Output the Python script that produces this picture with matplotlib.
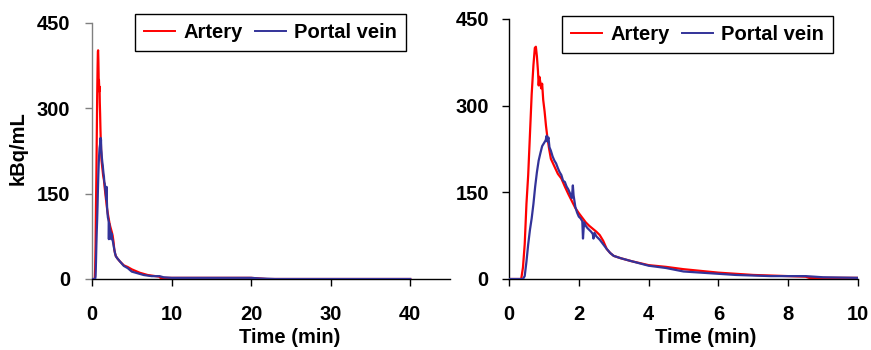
import matplotlib
matplotlib.use("Agg")
import matplotlib.pyplot as plt

# ---- data ----
artery_t = [0, 0.35, 0.40, 0.45, 0.50, 0.55, 0.60, 0.65, 0.70, 0.74, 0.77, 0.80, 0.83, 0.85, 0.87,
            0.90, 0.92, 0.95, 0.98, 1.02, 1.06, 1.10, 1.15, 1.20, 1.30, 1.40, 1.50, 1.60, 1.70,
            1.80, 1.90, 2.00, 2.10, 2.20, 2.30, 2.40, 2.50, 2.60, 2.70, 2.80, 2.90, 3.00, 3.20,
            3.50, 4.00, 4.50, 5.00, 5.50, 6.00, 6.50, 7.00, 7.50, 8.00, 8.50, 8.60, 9.00, 10.0,
            15.0, 20.0, 22.0, 30.0, 40.0]
artery_v = [0, 0, 20, 60, 130, 180, 250, 320, 370, 400, 402, 385, 360, 335, 350,
            340, 330, 338, 310, 290, 265, 245, 225, 208, 195, 182, 174, 160, 147,
            135, 123, 114, 106, 98, 92, 87, 82, 76, 66, 52, 45, 40, 36,
            31, 24, 21, 17, 14, 11, 9, 7, 6, 5, 4, 2, 2, 2,
            2, 2, 0, 0, 0]

portal_t = [0, 0.40, 0.45, 0.50, 0.55, 0.60, 0.65, 0.70, 0.75, 0.80, 0.85, 0.90, 0.95, 1.00,
            1.05, 1.08, 1.10, 1.13, 1.16, 1.20, 1.25, 1.30, 1.35, 1.40, 1.45, 1.50, 1.55,
            1.60, 1.65, 1.70, 1.75, 1.80, 1.83, 1.85, 1.90, 1.95, 2.00, 2.05, 2.10, 2.12,
            2.15, 2.20, 2.25, 2.30, 2.35, 2.40, 2.42, 2.45, 2.50, 2.60, 2.70, 2.80, 2.90,
            3.00, 3.20, 3.50, 4.00, 4.50, 5.00, 5.50, 6.00, 6.50, 7.00, 7.50, 8.00, 8.50,
            9.00, 10.0, 15.0, 20.0, 21.0, 23.0, 40.0]
portal_v = [0, 0, 5, 30, 60, 85, 105, 130, 160, 185, 205, 218, 230, 235,
            240, 248, 238, 245, 228, 222, 212, 205, 200, 192, 185, 180, 170,
            168, 160, 155, 148, 140, 162, 145, 125, 115, 108, 105, 100, 70,
            98, 92, 88, 85, 82, 78, 70, 80, 74, 68, 60, 52, 45,
            40, 36, 31, 23, 19, 13, 11, 9, 7, 6, 5, 5, 5,
            3, 2, 2, 2, 1, 0, 0]

y_ticks = [0, 150, 300, 450]
left_xticks = [0, 10, 20, 30, 40]
right_xticks = [0, 2, 4, 6, 8, 10]

RED = "#FF0000"
BLUE = "#333399"
FS = 14.5

plt.rcParams["font.family"] = "Liberation Sans"
plt.rcParams["font.weight"] = "bold"
plt.rcParams["font.size"] = FS

fig = plt.figure(figsize=(8.71, 3.5), dpi=100)
W, H = 871.0, 350.0

def make_axes(x0, x1, ytop, ybot):
    return fig.add_axes([x0 / W, 1 - ybot / H, (x1 - x0) / W, (ybot - ytop) / H])

axL = make_axes(92, 450, 23, 279)
axR = make_axes(509, 858, 19, 279)

for ax, xlim, xt, lab_x, leg_box, ypad in [
    (axL, (0, 45), left_xticks, 0.553, (135, 14), 10.5),
    (axR, (0, 10), right_xticks, 0.564, (562, 16), 9.5),
]:
    ax.plot(artery_t, artery_v, color=RED, lw=1.6, label="Artery", zorder=2)
    ax.plot(portal_t, portal_v, color=BLUE, lw=1.6, label="Portal vein", zorder=3)
    ax.set_xlim(*xlim)
    ax.set_ylim(0, 450)
    ax.set_xticks(xt)
    ax.set_yticks(y_ticks)
    for s in ["top", "right"]:
        ax.spines[s].set_visible(False)
    ax.spines["left"].set_linewidth(1.0)
    ax.spines["bottom"].set_linewidth(1.0)
    ax.tick_params(axis="x", direction="out", length=5, width=1, pad=14, labelsize=FS)
    ax.tick_params(axis="y", direction="out", length=5, width=1, pad=ypad, labelsize=FS)
    ax.set_xlabel("Time (min)", fontsize=FS, fontweight="bold")
    ax.xaxis.set_label_coords(lab_x, -0.19)
    leg = ax.legend(loc="upper left", bbox_to_anchor=(leg_box[0] / W, 1 - leg_box[1] / H),
                    bbox_transform=fig.transFigure, ncol=2, frameon=True, fancybox=False,
                    edgecolor="black", framealpha=1, borderaxespad=0, handlelength=1.55,
                    handletextpad=0.4, columnspacing=0.6, borderpad=0.45,
                    prop={"family": "Liberation Sans", "weight": "bold", "size": FS})
    leg.get_frame().set_linewidth(1.0)
    for line in leg.get_lines():
        line.set_linewidth(1.4)

axL.spines["left"].set_color("#808080")
axL.tick_params(axis="y", color="#808080")

fig.text(18 / W, 1 - 148 / H, "kBq/mL", rotation=90, ha="center", va="center",
         fontsize=FS, fontweight="bold")

fig.savefig("out.png", dpi=100)
